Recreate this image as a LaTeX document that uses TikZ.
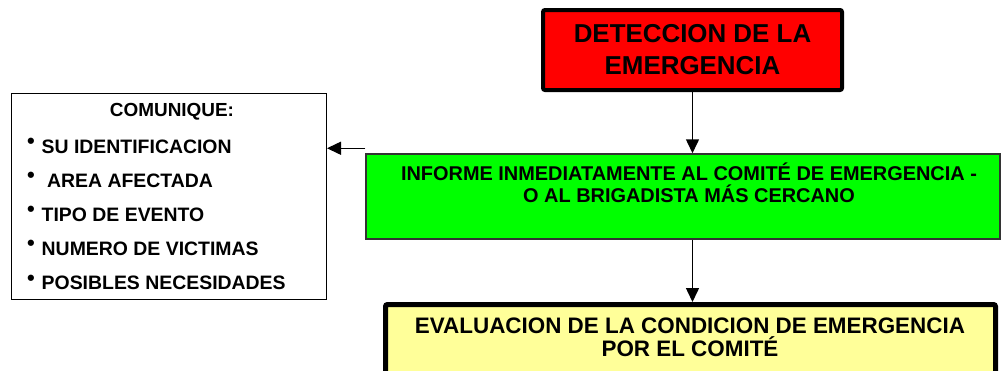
\documentclass[tikz,border=0pt]{standalone}
\usepackage{fontspec}
\setmainfont{Liberation Sans}
\usetikzlibrary{arrows.meta, positioning}

\definecolor{alarmred}{HTML}{FF0000}
\definecolor{informgreen}{HTML}{00FF00}
\definecolor{evalyellow}{HTML}{FFFF99}

\newcommand{\bul}{\makebox[14.5bp][l]{\raisebox{4.5bp}{\fontsize{22}{22}\selectfont\textbullet}}}

\begin{document}
\begin{tikzpicture}[x=1bp, y=-1bp,
    % Define simple, standard styles
    redbox/.style={rectangle, draw=black, line width=4bp, rounded corners=2bp, fill=alarmred, align=center, font=\fontsize{26}{32}\selectfont\bfseries, minimum width=299bp, minimum height=80bp, inner sep=0},
    greenbox/.style={rectangle, draw=black!80, line width=1.5bp, fill=informgreen, minimum width=634bp, minimum height=85bp, inner sep=0},
    yellowbox/.style={rectangle, draw=black, line width=5bp, rounded corners=2bp, fill=evalyellow, minimum width=610bp, minimum height=100bp, inner sep=0},
    listbox/.style={rectangle, draw=black, line width=1bp, fill=white, minimum width=315bp, minimum height=206bp, inner sep=0},
    boxtext/.style={align=center, inner sep=0, font=\fontsize{20}{22}\selectfont\bfseries},
    listtext/.style={align=left, inner sep=0, font=\fontsize{19.5}{34.25}\selectfont\bfseries},
    arrow/.style={line width=1.5bp, -{Triangle[length=14bp, width=13bp]}, draw=black}
]

\useasboundingbox (0,0) rectangle (1002,370);

% 1. Top Node: the detection
\node[redbox] (deteccion) at (692.5,50) {DETECCION DE LA\\EMERGENCIA};

% 2. Middle Node: inform the committee
\node[greenbox] (informe) at (683,196.5) {};
\node[boxtext] (informetxt) at (689,183) {INFORME INMEDIATAMENTE AL COMITÉ DE EMERGENCIA -\\O AL BRIGADISTA MÁS CERCANO};

% 3. Left Node: what to communicate
\node[listbox] (comunique) at (169,196.5) {};
\node[listtext, font=\fontsize{19}{22}\selectfont\bfseries] (titulo) at (172,112) {COMUNIQUE:};
\node[listtext, anchor=north west] (lista) at (27,138) {\bul SU IDENTIFICACION\\\bul\ AREA AFECTADA\\\bul TIPO DE EVENTO\\\bul NUMERO DE VICTIMAS\\\bul POSIBLES NECESIDADES};

% 4. Bottom Node: evaluation
\node[yellowbox] (evaluacion) at (690.5,354.5) {};
\node[boxtext, font=\fontsize{22.5}{23}\selectfont\bfseries] (evaluaciontxt) at (690,337.5) {EVALUACION DE LA CONDICION DE EMERGENCIA\\POR EL COMITÉ};

% Draw the connecting arrows
\draw[arrow] (deteccion.south) -- (deteccion.south |- informe.north);
\draw[arrow] (deteccion.south |- informe.south) -- (deteccion.south |- evaluacion.north);
\draw[arrow] ([yshift=5bp]informe.north west) -- ([yshift=5bp]informe.north west -| comunique.east);

\end{tikzpicture}
\end{document}
